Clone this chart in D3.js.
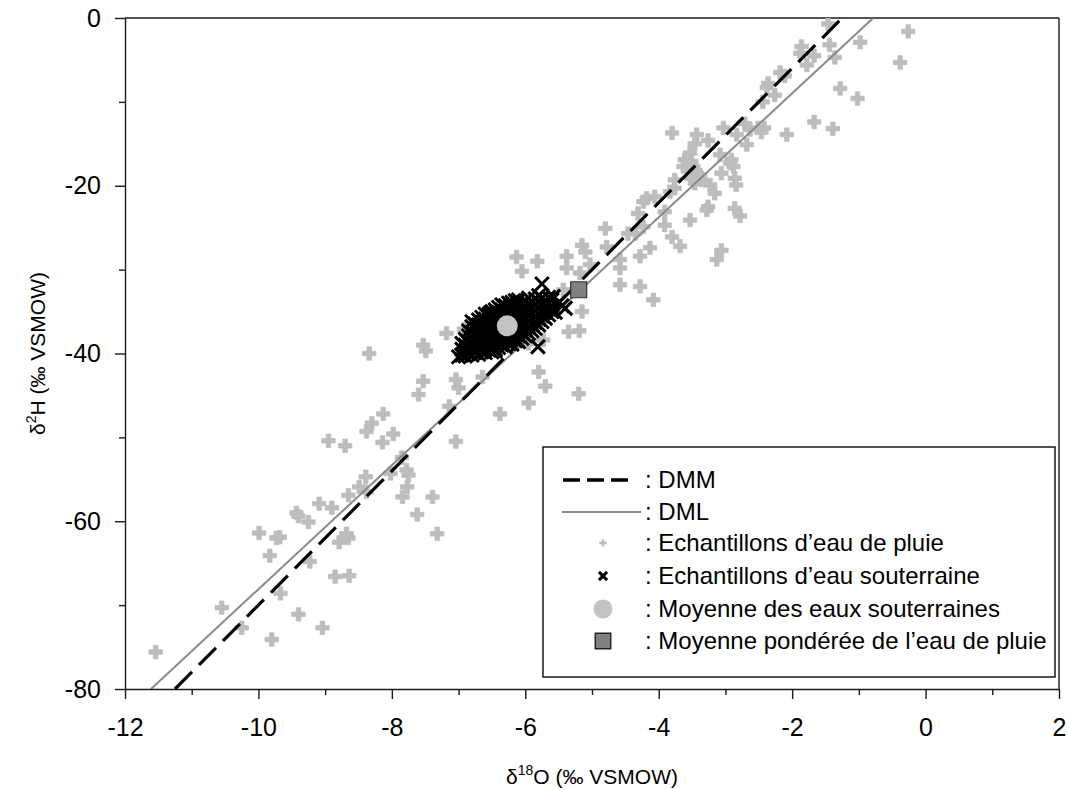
<!DOCTYPE html>
<html><head><meta charset="utf-8">
<script src="https://cdn.jsdelivr.net/npm/d3@7"></script>
<style>
body{margin:0;background:#fff;}
text{font-family:"Liberation Sans",Arial,Helvetica,sans-serif;fill:#000;}
</style></head><body>
<svg id="chart" width="1067" height="790"></svg>
<script>
// ---------- data ----------
const xTicks = [-12,-10,-8,-6,-4,-2,0,2];
const xMinorTicks = [-11,-9,-7,-5,-3,-1,1];
const yTicks = [0,-20,-40,-60,-80];
const yMinorTicks = [-10,-30,-50,-70];

const lineNames = ["DMM","DML"];
const lineSlopes = [8, 7.39];
const lineIntercepts = [10, 5.8];

// rain samples [δ18O, δ2H]
const rainSamples = [
[-0.26,-1.6],[-0.38,-5.3],[-0.98,-2.9],[-1.36,-4.7],[-1.44,-3.2],[-1.46,-0.7],[-1.67,-4.5],[-1.78,-5.6],[-1.86,-3.4],[-1.88,-4.2],
[-1.28,-8.4],[-1.02,-9.6],[-2.18,-6.5],[-2.11,-6.9],[-2.36,-7.8],[-2.38,-8.3],[-2.26,-9.2],[-2.44,-10.0],[-1.67,-12.4],[-1.39,-13.2],
[-2.08,-13.9],[-2.51,-13.1],[-2.42,-13.1],[-2.71,-12.6],[-2.63,-13.3],[-2.46,-13.6],[-3.03,-13.1],[-3.80,-13.7],[-3.43,-13.9],[-3.46,-15.0],
[-3.26,-14.6],[-2.83,-13.9],[-2.68,-15.1],[-3.08,-16.3],[-3.53,-16.1],[-3.61,-16.9],[-3.51,-17.1],[-3.63,-17.7],[-3.56,-18.1],[-3.48,-17.7],
[-3.43,-18.5],[-3.51,-19.1],[-3.38,-18.7],[-3.46,-19.7],[-3.37,-19.3],[-2.91,-16.9],[-2.93,-17.3],[-2.88,-17.7],[-3.06,-18.5],[-2.86,-19.1],
[-2.84,-19.9],[-3.23,-19.9],[-3.16,-20.9],[-3.76,-19.3],[-3.76,-20.3],[-3.83,-20.7],[-4.06,-21.3],[-4.18,-21.5],[-4.23,-21.9],[-4.31,-23.3],
[-3.91,-23.1],[-3.26,-22.5],[-3.28,-22.9],[-2.86,-22.7],[-2.78,-23.6],[-3.53,-24.1],[-3.91,-24.7],[-3.80,-26.1],[-3.68,-27.2],[-4.80,-25.1],
[-4.78,-27.3],[-4.46,-25.7],[-4.35,-25.7],[-4.23,-24.9],[-4.58,-28.8],[-4.58,-29.8],[-4.13,-27.4],[-4.28,-28.4],[-3.06,-27.7],[-3.13,-28.8],
[-5.15,-27.1],[-5.10,-27.9],[-5.38,-28.4],[-5.38,-29.8],[-5.18,-30.4],[-5.03,-29.4],[-4.58,-31.8],[-4.28,-32.0],[-4.08,-33.6],[-5.15,-35.0],
[-5.35,-37.4],[-5.19,-37.3],[-5.70,-43.9],[-5.20,-44.8],[-5.80,-42.2],[-5.73,-38.4],[-6.13,-28.5],[-6.05,-30.2],[-5.82,-29.0],[-7.18,-37.6],
[-6.92,-37.1],[-7.53,-39.0],[-7.49,-39.7],[-8.34,-40.0],[-7.53,-43.3],[-7.60,-44.9],[-7.04,-43.1],[-7.00,-44.1],[-6.64,-42.8],[-5.95,-38.8],
[-5.95,-45.9],[-6.38,-47.2],[-7.14,-46.3],[-8.13,-47.2],[-8.30,-48.3],[-8.38,-49.3],[-7.98,-49.6],[-8.14,-50.6],[-8.95,-50.4],[-8.70,-51.0],
[-7.04,-50.5],[-7.85,-52.4],[-7.78,-53.9],[-7.75,-54.5],[-8.02,-54.3],[-8.39,-54.7],[-8.49,-55.9],[-8.38,-56.5],[-7.77,-55.9],[-7.84,-57.1],
[-7.39,-57.1],[-8.65,-56.9],[-9.09,-57.9],[-8.90,-58.4],[-9.43,-59.0],[-9.40,-59.4],[-7.62,-59.2],[-9.25,-60.1],[-9.99,-61.4],[-9.68,-61.9],
[-9.73,-62.0],[-8.68,-61.5],[-8.65,-62.0],[-8.79,-62.5],[-7.32,-61.5],[-9.83,-64.1],[-9.23,-64.8],[-8.85,-66.6],[-8.64,-66.5],[-9.67,-68.6],
[-10.55,-70.3],[-9.40,-71.1],[-10.25,-72.7],[-9.04,-72.7],[-9.80,-74.1],[-11.54,-75.6],[-5.43,-32.4]
];

// groundwater samples [δ18O, δ2H]
const groundwaterSamples = [
[-7.00,-40.4],
[-6.95,-40.2],[-6.95,-39.5],[-6.95,-38.8],
[-6.90,-40.3],[-6.90,-39.7],[-6.90,-39.0],[-6.90,-38.3],
[-6.85,-40.0],[-6.85,-39.3],[-6.85,-38.6],[-6.85,-37.9],[-6.85,-37.3],
[-6.80,-40.2],[-6.80,-39.6],[-6.80,-38.9],[-6.80,-38.2],[-6.80,-37.5],[-6.80,-36.8],
[-6.75,-39.9],[-6.75,-39.2],[-6.75,-38.5],[-6.75,-37.8],[-6.75,-37.1],[-6.75,-36.5],
[-6.70,-40.1],[-6.70,-39.4],[-6.70,-38.7],[-6.70,-38.0],[-6.70,-37.3],[-6.70,-36.6],[-6.70,-36.0],
[-6.65,-39.8],[-6.65,-39.1],[-6.65,-38.4],[-6.65,-37.7],[-6.65,-37.0],[-6.65,-36.3],[-6.65,-35.7],
[-6.60,-39.9],[-6.60,-39.3],[-6.60,-38.6],[-6.60,-37.9],[-6.60,-37.2],[-6.60,-36.5],[-6.60,-35.9],[-6.60,-35.3],
[-6.55,-39.6],[-6.55,-38.9],[-6.55,-38.2],[-6.55,-37.5],[-6.55,-36.8],[-6.55,-36.1],[-6.55,-35.4],
[-6.50,-39.8],[-6.50,-39.2],[-6.50,-38.5],[-6.50,-37.8],[-6.50,-37.1],[-6.50,-36.4],[-6.50,-35.7],[-6.50,-35.0],
[-6.45,-39.5],[-6.45,-38.8],[-6.45,-38.1],[-6.45,-37.4],[-6.45,-36.7],[-6.45,-36.0],[-6.45,-35.3],[-6.45,-34.8],
[-6.40,-39.3],[-6.40,-38.6],[-6.40,-37.9],[-6.40,-37.2],[-6.40,-36.5],[-6.40,-35.8],[-6.40,-35.1],[-6.40,-34.5],
[-6.35,-39.0],[-6.35,-38.3],[-6.35,-37.6],[-6.35,-36.9],[-6.35,-36.2],[-6.35,-35.5],[-6.35,-34.8],[-6.35,-34.2],
[-6.30,-39.2],[-6.30,-38.5],[-6.30,-37.8],[-6.30,-37.1],[-6.30,-36.4],[-6.30,-35.7],[-6.30,-35.0],[-6.30,-34.3],
[-6.25,-38.8],[-6.25,-38.1],[-6.25,-37.4],[-6.25,-36.7],[-6.25,-36.0],[-6.25,-35.3],[-6.25,-34.6],[-6.25,-34.0],
[-6.20,-38.9],[-6.20,-38.2],[-6.20,-37.5],[-6.20,-36.8],[-6.20,-36.1],[-6.20,-35.4],[-6.20,-34.7],[-6.20,-33.9],
[-6.15,-38.5],[-6.15,-37.8],[-6.15,-37.1],[-6.15,-36.4],[-6.15,-35.7],[-6.15,-35.0],[-6.15,-34.3],[-6.15,-33.7],
[-6.10,-38.6],[-6.10,-37.9],[-6.10,-37.2],[-6.10,-36.5],[-6.10,-35.8],[-6.10,-35.1],[-6.10,-34.4],[-6.10,-33.6],
[-6.05,-38.2],[-6.05,-37.5],[-6.05,-36.8],[-6.05,-36.1],[-6.05,-35.4],[-6.05,-34.7],[-6.05,-34.0],
[-6.00,-37.9],[-6.00,-37.2],[-6.00,-36.5],[-6.00,-35.8],[-6.00,-35.1],[-6.00,-34.4],[-6.00,-33.7],
[-5.95,-37.6],[-5.95,-36.9],[-5.95,-36.2],[-5.95,-35.5],[-5.95,-34.8],[-5.95,-34.1],[-5.95,-33.4],
[-5.90,-37.3],[-5.90,-36.6],[-5.90,-35.9],[-5.90,-35.2],[-5.90,-34.5],[-5.90,-33.8],
[-5.85,-37.0],[-5.85,-36.3],[-5.85,-35.6],[-5.85,-34.9],[-5.85,-34.2],[-5.85,-33.5],
[-5.80,-36.6],[-5.80,-35.9],[-5.80,-35.2],[-5.80,-34.5],[-5.80,-33.8],[-5.80,-33.1],
[-5.75,-36.2],[-5.75,-35.5],[-5.75,-34.8],[-5.75,-34.1],[-5.75,-33.4],
[-5.70,-35.8],[-5.70,-35.1],[-5.70,-34.4],[-5.70,-33.7],
[-5.65,-35.4],[-5.65,-34.7],[-5.65,-34.0],[-5.65,-33.3],
[-5.60,-35.0],[-5.60,-34.3],[-5.60,-33.6],
[-5.75,-31.7],[-5.40,-34.6],[-5.45,-34.3],[-5.81,-39.2],[-5.55,-35.1],[-5.58,-33.2],[-5.50,-33.9],[-6.80,-36.2],[-6.53,-35.2],[-6.45,-39.7]
];

const groundwaterMean = [-6.27, -36.7];
const rainWeightedMean = [-5.20, -32.4];

const legendLabels = [
  ": DMM",
  ": DML",
  ": Echantillons d\u2019eau de pluie",
  ": Echantillons d\u2019eau souterraine",
  ": Moyenne des eaux souterraines",
  ": Moyenne pond\u00e9r\u00e9e de l\u2019eau de pluie"
];

// ---------- drawing ----------
const svg = d3.select("#chart");
const X0 = 125, X1 = 1059, Y0 = 18, Y1 = 689;
const x = d3.scaleLinear().domain([-12, 2]).range([X0, X1]);
const y = d3.scaleLinear().domain([-80, 0]).range([Y1, Y0]);

const RAIN_COLOR = "#bdbdbd";
const DML_COLOR = "#8a8a8a";

svg.append("defs").append("clipPath").attr("id","plotclip")
  .append("rect").attr("x",X0).attr("y",Y0).attr("width",X1-X0).attr("height",Y1-Y0);

// frame (top and right)
svg.append("line").attr("x1",X0).attr("x2",X1).attr("y1",Y0).attr("y2",Y0)
  .attr("stroke","#1a1a1a").attr("stroke-width",1.4);
svg.append("line").attr("x1",X1).attr("x2",X1).attr("y1",Y0).attr("y2",Y1)
  .attr("stroke","#1a1a1a").attr("stroke-width",1.4);

const plot = svg.append("g").attr("clip-path","url(#plotclip)");

// rain samples
const plusSym = d3.symbol().type(d3.symbolCross).size(100);
plot.append("g").selectAll("path").data(rainSamples).join("path")
  .attr("d", plusSym)
  .attr("transform", d => `translate(${x(d[0])},${y(d[1])})`)
  .attr("fill", RAIN_COLOR)
  .attr("stroke", RAIN_COLOR).attr("stroke-width",0.8).attr("stroke-linejoin","round");

// lines
const lineGen = d3.line().x(d => x(d[0])).y(d => y(d[1]));
const lineStyles = [
  {stroke:"#000", width:3.2, dash:"24,10"},
  {stroke:DML_COLOR, width:2, dash:null}
];
[1, 0].forEach(i => {
  const s = lineSlopes[i], b = lineIntercepts[i];
  const pts = [[(-80 - b)/s, -80], [(0 - b)/s, 0]];
  const st = lineStyles[i];
  plot.append("path").datum(pts).attr("d", lineGen)
    .attr("fill","none").attr("stroke",st.stroke).attr("stroke-width",st.width)
    .attr("stroke-dasharray", st.dash);
});

// groundwater samples
const xSym = d3.symbol().type(d3.symbolX).size(125);
plot.append("g").selectAll("path").data(groundwaterSamples).join("path")
  .attr("d", xSym)
  .attr("transform", d => `translate(${x(d[0])},${y(d[1])})`)
  .attr("fill","none").attr("stroke","#000").attr("stroke-width",3);

// means
plot.append("circle").attr("cx", x(groundwaterMean[0])).attr("cy", y(groundwaterMean[1]))
  .attr("r", 10.5).attr("fill", "#c3c3c3");
plot.append("path").attr("d", d3.symbol().type(d3.symbolSquare).size(256))
  .attr("transform", `translate(${x(rainWeightedMean[0])},${y(rainWeightedMean[1])})`)
  .attr("fill","#808080").attr("stroke","#333").attr("stroke-width",1.2);

// axes
const fmt = d => String(d);
svg.append("g").attr("transform",`translate(0,${Y1})`)
  .call(d3.axisBottom(x).tickValues(xTicks).tickSize(10).tickSizeOuter(0).tickPadding(19).tickFormat(fmt));
svg.append("g").attr("transform",`translate(0,${Y1})`)
  .call(d3.axisBottom(x).tickValues(xMinorTicks).tickSize(6).tickSizeOuter(0).tickFormat(""))
  .select(".domain").remove();
svg.append("g").attr("transform",`translate(${X0},0)`)
  .call(d3.axisLeft(y).tickValues(yTicks).tickSize(10).tickSizeOuter(0).tickPadding(14).tickFormat(fmt));
svg.append("g").attr("transform",`translate(${X0},0)`)
  .call(d3.axisLeft(y).tickValues(yMinorTicks).tickSize(6).tickSizeOuter(0).tickFormat(""))
  .select(".domain").remove();

svg.selectAll(".tick line").attr("stroke","#1a1a1a").attr("stroke-width",1.4);
svg.selectAll(".domain").attr("stroke","#1a1a1a").attr("stroke-width",1.4);
svg.selectAll(".tick text").attr("font-size",25).attr("font-family",'"Liberation Sans",Arial,sans-serif').attr("fill","#000");

// axis titles
const xt = svg.append("text").attr("x",(X0+X1)/2).attr("y",784).attr("text-anchor","middle").attr("font-size",21);
xt.append("tspan").text("\u03b4");
xt.append("tspan").attr("font-size",14).attr("dy",-9).text("18");
xt.append("tspan").attr("dy",9).text("O (\u2030 VSMOW)");

const yt = svg.append("text").attr("transform",`translate(45,${(Y0+Y1)/2}) rotate(-90)`)
  .attr("text-anchor","middle").attr("font-size",21);
yt.append("tspan").text("\u03b4");
yt.append("tspan").attr("font-size",14).attr("dy",-9).text("2");
yt.append("tspan").attr("dy",9).text("H (\u2030 VSMOW)");

// legend
const lg = svg.append("g");
lg.append("rect").attr("x",543).attr("y",447).attr("width",512).attr("height",230)
  .attr("fill","#fff").attr("stroke","#1a1a1a").attr("stroke-width",1.5);
const rowY = [480, 512, 543, 576, 609, 641];
const mx = 603;
lg.append("line").attr("x1",563).attr("x2",630).attr("y1",rowY[0]).attr("y2",rowY[0])
  .attr("stroke","#000").attr("stroke-width",3.6).attr("stroke-dasharray","17,7");
lg.append("line").attr("x1",562).attr("x2",641).attr("y1",rowY[1]).attr("y2",rowY[1])
  .attr("stroke",DML_COLOR).attr("stroke-width",2);
lg.append("path").attr("d", d3.symbol().type(d3.symbolCross).size(30))
  .attr("transform",`translate(${mx},${rowY[2]})`).attr("fill",RAIN_COLOR);
lg.append("path").attr("d", d3.symbol().type(d3.symbolX).size(45))
  .attr("transform",`translate(${mx},${rowY[3]})`).attr("fill","none").attr("stroke","#000").attr("stroke-width",3);
lg.append("circle").attr("cx",mx).attr("cy",rowY[4]).attr("r",9.5).attr("fill","#c3c3c3");
lg.append("path").attr("d", d3.symbol().type(d3.symbolSquare).size(240))
  .attr("transform",`translate(${mx},${rowY[5]})`).attr("fill","#808080").attr("stroke","#222").attr("stroke-width",1.4);
lg.selectAll("text.lab").data(legendLabels).join("text").attr("class","lab")
  .attr("x",645).attr("y",(d,i)=>rowY[i]+8).attr("font-size",24).text(d=>d);
</script>
</body></html>
